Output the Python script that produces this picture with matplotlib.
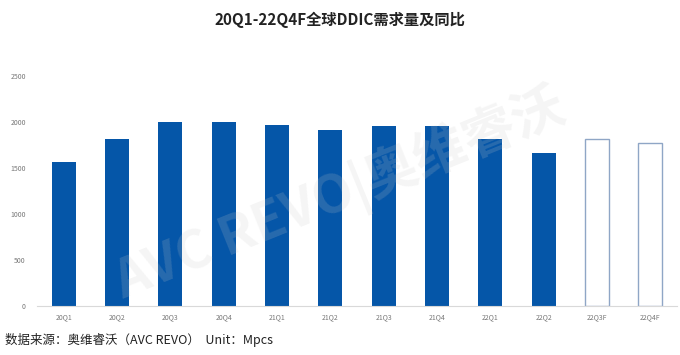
import matplotlib.pyplot as plt

plt.rcParams['font.family'] = ['Noto Sans CJK SC', 'DejaVu Sans']

quarters = ['20Q1', '20Q2', '20Q3', '20Q4', '21Q1', '21Q2', '21Q3', '21Q4',
            '22Q1', '22Q2', '22Q3F', '22Q4F']
demand = [1560, 1820, 2005, 2005, 1970, 1915, 1960, 1960, 1820, 1665, 1820, 1775]
forecast = [False] * 10 + [True] * 2
yticks = [0, 500, 1000, 1500, 2000, 2500]

fig = plt.figure(figsize=(6.8, 3.55), dpi=100)
ax = fig.add_axes([37 / 680, 1 - 306 / 355, 640 / 680, 230 / 355])

x = range(len(quarters))
for i, v, f in zip(x, demand, forecast):
    if f:
        ax.bar(i, v, width=0.45, facecolor='white', edgecolor='#8FA6C6', linewidth=1.0)
    else:
        ax.bar(i, v, width=0.45, color='#0556A8')

ax.set_xlim(-0.5, len(quarters) - 0.5)
ax.set_ylim(0, 2500)
ax.set_yticks(yticks)
ax.set_xticks(list(x))
ax.set_xticklabels(quarters)
ax.tick_params(axis='both', length=0, labelsize=5, labelcolor='#777777')
ax.tick_params(axis='y', pad=8)
ax.tick_params(axis='x', pad=5)
for s in ['top', 'right', 'left']:
    ax.spines[s].set_visible(False)
ax.spines['bottom'].set_color('#D9D9D9')
ax.spines['bottom'].set_linewidth(0.8)

# watermark
fig.text(0.50, 0.45, 'AVC REVO|奥维睿沃', fontsize=38, fontweight='bold',
         color='#C8C8C8', alpha=0.18, rotation=22, ha='center', va='center',
         style='italic', zorder=0)

fig.text(0.5, 1 - 20 / 355, '20Q1-22Q4F全球DDIC需求量及同比', ha='center', va='center',
         fontsize=11, fontweight='bold', color='#222222')
fig.text(5 / 680, 1 - 340 / 355, '数据来源：奥维睿沃（AVC REVO）  Unit：Mpcs',
         ha='left', va='center', fontsize=9, color='#222222')

fig.savefig('out.png', dpi=100)
